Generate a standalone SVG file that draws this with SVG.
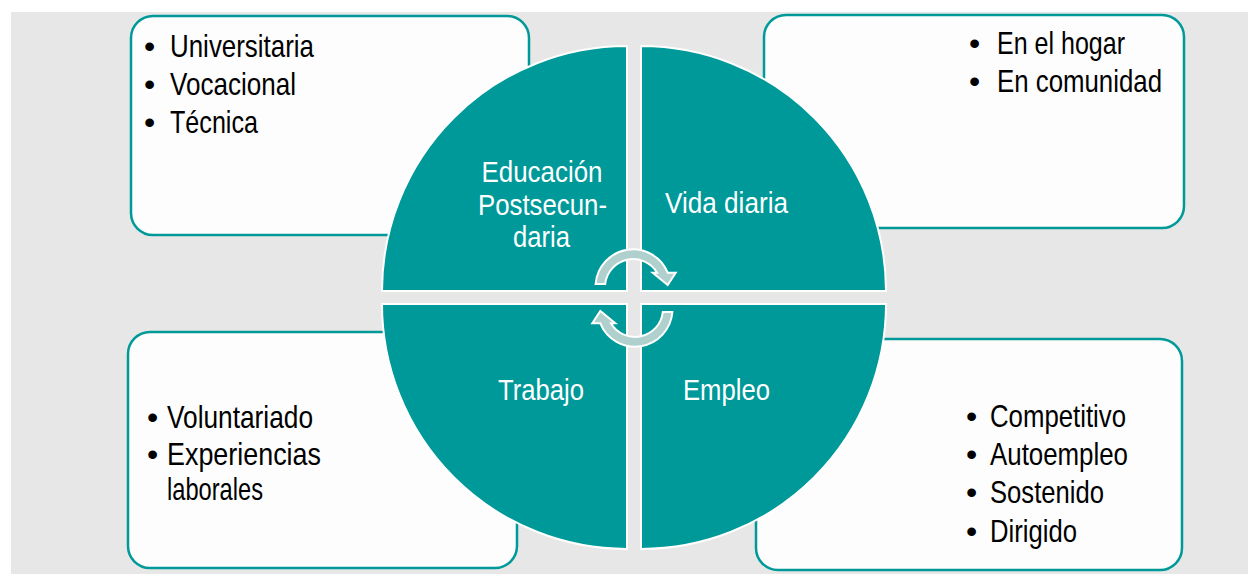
<svg xmlns="http://www.w3.org/2000/svg" width="1248" height="575" viewBox="0 0 1248 575">
<style>
.box{fill:#fdfdfd;stroke:#009999;stroke-width:2.5}
.q{fill:#009999;stroke:#ffffff;stroke-width:2}
.arr{fill:#b0d0ce;stroke:#ffffff;stroke-width:2;stroke-linejoin:miter}
.t{font-family:"Liberation Sans",Arial,sans-serif;font-size:31.5px;fill:#000000}
.b{font-family:"Liberation Sans",Arial,sans-serif;font-size:32px;fill:#000000}
.w{font-family:"Liberation Sans",Arial,sans-serif;font-size:29.5px;fill:#ffffff;text-anchor:middle}
</style>
<rect x="0" y="0" width="1248" height="575" fill="#ffffff"/>
<rect x="11" y="12" width="1237" height="562" fill="#e7e7e7"/>
<g id="box-educacion">
<rect class="box" x="131" y="16" width="398" height="219" rx="22"/>
<text class="b" x="144" y="57">•</text><text class="t" x="170" y="57" textLength="144" lengthAdjust="spacingAndGlyphs">Universitaria</text>
<text class="b" x="144" y="95">•</text><text class="t" x="170" y="95" textLength="126" lengthAdjust="spacingAndGlyphs">Vocacional</text>
<text class="b" x="144" y="133">•</text><text class="t" x="170" y="133" textLength="88" lengthAdjust="spacingAndGlyphs">Técnica</text>
</g>
<g id="box-vida">
<rect class="box" x="764" y="15" width="420" height="213" rx="22"/>
<text class="b" x="969" y="54">•</text><text class="t" x="997" y="54" textLength="128" lengthAdjust="spacingAndGlyphs">En el hogar</text>
<text class="b" x="969" y="92">•</text><text class="t" x="997" y="92" textLength="165" lengthAdjust="spacingAndGlyphs">En comunidad</text>
</g>
<g id="box-trabajo">
<rect class="box" x="128" y="332" width="389" height="236" rx="22"/>
<text class="b" x="147" y="428">•</text><text class="t" x="167" y="428" textLength="146" lengthAdjust="spacingAndGlyphs">Voluntariado</text>
<text class="b" x="147" y="465">•</text><text class="t" x="167" y="465" textLength="154" lengthAdjust="spacingAndGlyphs">Experiencias</text>
<text class="t" x="167" y="500" textLength="96" lengthAdjust="spacingAndGlyphs">laborales</text>
</g>
<g id="box-empleo">
<rect class="box" x="756" y="339" width="426" height="231" rx="22"/>
<text class="b" x="966" y="427">•</text><text class="t" x="990" y="427" textLength="136" lengthAdjust="spacingAndGlyphs">Competitivo</text>
<text class="b" x="966" y="465">•</text><text class="t" x="990" y="465" textLength="138" lengthAdjust="spacingAndGlyphs">Autoempleo</text>
<text class="b" x="966" y="503">•</text><text class="t" x="990" y="503" textLength="114" lengthAdjust="spacingAndGlyphs">Sostenido</text>
<text class="b" x="966" y="542">•</text><text class="t" x="990" y="542" textLength="87" lengthAdjust="spacingAndGlyphs">Dirigido</text>
</g>
<g id="q-educacion">
<path class="q" d="M627,291 L382,291 A245,245 0 0 1 627,46 Z"/>
<text class="w" x="542" y="182" textLength="121" lengthAdjust="spacingAndGlyphs">Educación</text>
<text class="w" x="542.5" y="215" textLength="129" lengthAdjust="spacingAndGlyphs">Postsecun-</text>
<text class="w" x="541.5" y="247" textLength="57" lengthAdjust="spacingAndGlyphs">daria</text>
</g>
<g id="q-vida">
<path class="q" d="M641,291 L641,46 A245,245 0 0 1 886,291 Z"/>
<text class="w" x="726.5" y="213" textLength="123" lengthAdjust="spacingAndGlyphs">Vida diaria</text>
</g>
<g id="q-trabajo">
<path class="q" d="M627,304 L627,549 A245,245 0 0 1 382,304 Z"/>
<text class="w" x="541" y="400" textLength="86" lengthAdjust="spacingAndGlyphs">Trabajo</text>
</g>
<g id="q-empleo">
<path class="q" d="M641,304 L886,304 A245,245 0 0 1 641,549 Z"/>
<text class="w" x="726.5" y="400" textLength="87" lengthAdjust="spacingAndGlyphs">Empleo</text>
</g>
<g id="connectors">
<path id="arrow-top" class="arr" d="M595.6,284 A37.5,37.5 0 0 1 667.7,272.7 L675.7,272.7 L667.7,285 L652.7,272.7 L657.1,272.7 A28,28 0 0 0 605.2,284 Z"/>
<path id="arrow-bottom" class="arr" transform="rotate(180 634 298)" d="M595.6,284 A37.5,37.5 0 0 1 667.7,272.7 L675.7,272.7 L667.7,285 L652.7,272.7 L657.1,272.7 A28,28 0 0 0 605.2,284 Z"/>
</g>
</svg>
